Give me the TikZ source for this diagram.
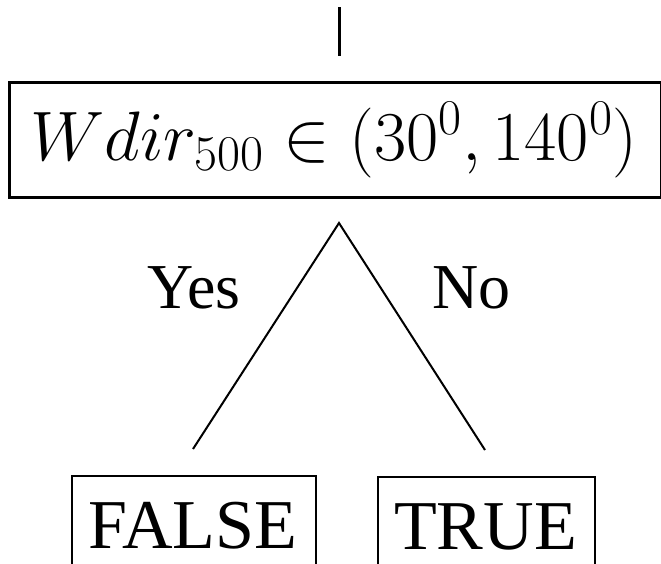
\RequirePackage{fix-cm}
\documentclass[tikz,border=0pt]{standalone}
\usepackage{fontspec}
\setmainfont{Liberation Serif}
\DeclareMathSizes{70}{70}{50}{36}
\begin{document}
\begin{tikzpicture}[x=1pt,y=-1pt,
  bigframe/.style={draw, line width=3pt, inner sep=0pt, anchor=north west},
  smallframe/.style={draw, line width=2.4pt, inner sep=0pt, anchor=north west},
  edge/.style={line width=2pt},
  lbl/.style={font=\fontsize{64}{72}\selectfont, inner sep=0pt},
  leaf/.style={font=\fontsize{70}{80}\selectfont, inner sep=0pt, anchor=base}]
\useasboundingbox (0,0) rectangle (661,563);
\clip (0,0) rectangle (661,563);
% condition box
\node[bigframe, minimum width=652pt, minimum height=115pt] (cond) at (8,81) {};
\node[anchor=base, inner sep=0pt, font=\fontsize{70}{82}\selectfont] (condtext) at (334,160) {$Wdir_{500} \in (30^0, 140^0)$};
% stem above
\coordinate (stemtop) at (339.5,7);
\coordinate (stembot) at (339.5,56);
\draw[line width=2.8pt] (stemtop) -- (stembot);
% branches
\coordinate (apex) at (339,223);
\coordinate (yesend) at (193,449);
\coordinate (noend) at (485,450);
\draw[edge] (yesend) -- (apex) -- (noend);
\node[lbl, anchor=base west] (yes) at (147,308) {Yes};
\node[lbl, anchor=base west] (no) at (432,308) {No};
% leaves
\node[smallframe, minimum width=244pt, minimum height=120pt] (falsebox) at (71,475) {};
\node[leaf] (falsetext) at (193,548) {FALSE};
\node[smallframe, minimum width=217pt, minimum height=120pt] (truebox) at (377,476) {};
\node[leaf] (truetext) at (485.5,549) {TRUE};
\end{tikzpicture}
\end{document}
